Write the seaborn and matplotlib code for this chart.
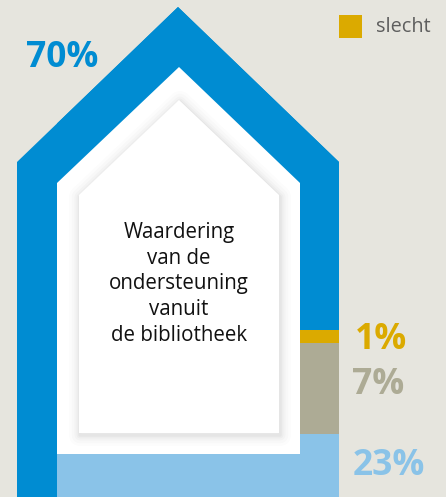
import matplotlib
matplotlib.use('Agg')
import matplotlib.pyplot as plt
from matplotlib.patches import Polygon, Rectangle
import seaborn as sns

# Data (stacked from the bottom of the house up)
categories = ['zeer goed', 'matig', 'slecht', 'goed']
values = [23, 7, 1, 70]
value_labels = ['23%', '7%', '1%', '70%']
legend_items = ['slecht']

colors = {
    'zeer goed': '#8AC3E8',
    'matig': '#ADAB95',
    'slecht': '#DBAA00',
    'goed': '#008CD2',
}
BG = '#E6E5DE'

sns.set_theme(style='white')
plt.rcParams['font.family'] = ['Open Sans', 'DejaVu Sans']

# y axis in percent units, 13 px per percent, baseline below the cut-off image
PX_PER_PCT = 13.0
BASE_PX = 733.0


def py(v):
    # pixel row -> data y
    return (BASE_PX - v) / PX_PER_PCT


fig = plt.figure(figsize=(4.46, 4.97), dpi=100)
fig.patch.set_facecolor(BG)
ax = fig.add_axes([0, 0, 1, 1])
ax.set_xlim(0, 446)
ax.set_ylim(py(497), py(0))
ax.axis('off')

# outer house (blue frame)
outer = [(17, py(520)), (17, py(162)), (178, py(7)), (339, py(162)), (339, py(520))]
house = Polygon(outer, closed=True, facecolor=colors['goed'], edgecolor='none', zorder=1)
ax.add_patch(house)

# stacked bars inside the house
bottom = 0
bar_left, bar_right = 57, 339
for cat, val in zip(categories, values):
    b = ax.bar((bar_left + bar_right) / 2, val, bottom=bottom, width=bar_right - bar_left,
               color=colors[cat], edgecolor='none', zorder=2)
    for patch in b.patches:
        patch.set_clip_path(house)
    bottom += val

# inner white house
inner = [(57, py(454)), (57, py(183)), (179, py(67)), (300, py(183)), (300, py(454))]
ax.add_patch(Polygon(inner, closed=True, facecolor='white', edgecolor='none', zorder=3))

# card with soft shadow
card = [(79, py(433)), (79, py(195)), (179, py(100)), (279, py(195)), (279, py(433))]
card_sh = [(x + 1, y - 2 / PX_PER_PCT) for x, y in card]
for lw, a in [(16, 0.012), (12, 0.015), (8, 0.02), (5, 0.025), (2.5, 0.03)]:
    ax.add_patch(Polygon(card_sh, closed=True, facecolor='none',
                         edgecolor=(0, 0, 0, a), lw=lw, joinstyle='round', zorder=4))
ax.add_patch(Polygon(card, closed=True, facecolor='white', edgecolor='none', zorder=5))

ax.text(179, py(284), 'Waardering\nvan de\nondersteuning\nvanuit\nde bibliotheek',
        ha='center', va='center', fontsize=14.8, linespacing=1.3, color='#111111', zorder=6)

# value labels
label_pos = [(353, 466), (352, 385), (355, 340), (26, 58)]
for cat, lab, (x, y) in zip(categories, value_labels, label_pos):
    ax.text(x, py(y), lab, ha='left', va='center', fontsize=25.5, fontweight='bold',
            color=colors[cat], zorder=6)

# legend (top right)
leg_y = [26]
for item, y in zip(legend_items, leg_y):
    ax.add_patch(Rectangle((339, py(y + 11.5)), 23, 23 / PX_PER_PCT,
                           facecolor=colors[item], edgecolor='none', zorder=6))
    ax.text(376, py(y + 1), item, ha='left', va='center', fontsize=14.3, color='#5E5E5E', zorder=6)

fig.savefig('out.png', dpi=100, facecolor=BG)
